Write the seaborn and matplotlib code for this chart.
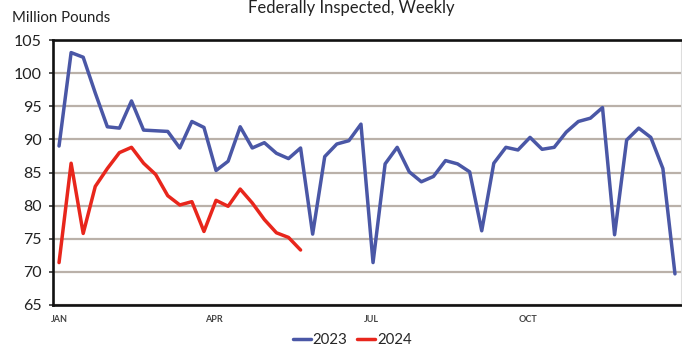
import numpy as np
import pandas as pd
import matplotlib
matplotlib.use("Agg")
import matplotlib.pyplot as plt
import seaborn as sns

# Weekly federally inspected production, million pounds
weeks_2023 = list(range(52))
values_2023 = [
    89.0, 103.1, 102.4, 97.0, 91.9, 91.7, 95.8, 91.4, 91.3, 91.2,
    88.7, 92.7, 91.8, 85.3, 86.7, 91.9, 88.7, 89.5, 87.9, 87.1,
    88.7, 75.7, 87.4, 89.3, 89.8, 92.3, 71.4, 86.3, 88.8, 85.1,
    83.6, 84.4, 86.8, 86.3, 85.1, 76.2, 86.4, 88.8, 88.4, 90.3,
    88.5, 88.8, 91.1, 92.7, 93.2, 94.8, 75.6, 89.9, 91.7, 90.3,
    85.6, 69.7,
]
weeks_2024 = list(range(21))
values_2024 = [
    71.4, 86.4, 75.8, 82.9, 85.6, 88.0, 88.8, 86.4, 84.7, 81.5,
    80.1, 80.6, 76.1, 80.8, 79.9, 82.5, 80.4, 77.9, 75.9, 75.2,
    73.3,
]
month_labels = ["JAN", "APR", "JUL", "OCT"]
month_positions = [0, 12.8, 25.9, 38.8]
y_ticks = [65, 70, 75, 80, 85, 90, 95, 100, 105]

df = pd.DataFrame({
    "week": weeks_2023 + weeks_2024,
    "pounds": values_2023 + values_2024,
    "year": ["2023"] * len(weeks_2023) + ["2024"] * len(weeks_2024),
})

sns.set_style("white")
plt.rcParams["font.family"] = ["Lato", "DejaVu Sans"]

fig = plt.figure(figsize=(6.82, 3.48), dpi=100)
ax = fig.add_axes([53 / 682, 1 - 305 / 348, 628 / 682, 265 / 348])

sns.lineplot(data=df, x="week", y="pounds", hue="year",
             palette={"2023": "#4a57a6", "2024": "#e8261c"},
             linewidth=2.5, ax=ax, legend=True)

ax.set_ylim(65, 105)
ax.set_xlim(-0.45, 51.25)
ax.set_yticks(y_ticks)
ax.set_yticklabels([str(v) for v in y_ticks], fontsize=11.5, color="#222222")
ax.yaxis.grid(True, color="#bab1a9", linewidth=1.6)
ax.set_axisbelow(True)

# weekly tick marks between points, month labels under them
ax.set_xticks(np.arange(-0.5, 52, 1.0), minor=True)
ax.set_xticks(month_positions)
ax.set_xticklabels(month_labels, fontsize=6.5, fontweight="bold", color="#444444")
ax.tick_params(axis="x", which="major", length=0, pad=7)
ax.tick_params(axis="x", which="minor", direction="out", length=3, width=1.1, color="#222222")
ax.tick_params(axis="y", direction="out", length=3, width=1.1, color="#222222", pad=5, left=True)

ax.set_xlabel("")
ax.set_ylabel("")
for side in ("left", "bottom", "top"):
    ax.spines[side].set_color("#111111")
    ax.spines[side].set_linewidth(1.9)
ax.spines["right"].set_color("#dddddd")
ax.spines["right"].set_linewidth(0.8)

fig.text(351 / 682, 1 - 8 / 348, "Federally Inspected, Weekly",
         ha="center", va="center", fontsize=12, color="#222222")
fig.text(12 / 682, 1 - 18 / 348, "Million Pounds",
         ha="left", va="center", fontsize=10.8, color="#222222")

handles, labels = ax.get_legend_handles_labels()
ax.legend(handles, labels, loc="center", bbox_to_anchor=(352 / 682, 1 - 340 / 348),
          bbox_transform=fig.transFigure, ncol=2, frameon=False, fontsize=10.8,
          handlelength=1.2, handletextpad=0.15, columnspacing=0.6)

fig.savefig("out.png", dpi=100)
